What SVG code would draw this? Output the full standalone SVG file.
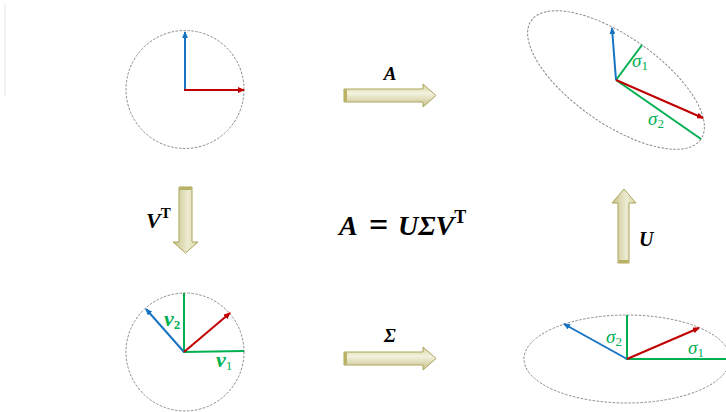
<svg xmlns="http://www.w3.org/2000/svg" width="726" height="412" viewBox="0 0 726 412">
<defs>
<style>
.ring{fill:none;stroke:#8a8a8a;stroke-width:1;stroke-dasharray:2.5 1.5}
.blue{stroke:#1874C2;stroke-width:2;fill:none}
.red{stroke:#C00000;stroke-width:2;fill:none}
.green{stroke:#00B050;stroke-width:2;fill:none}
.glab{font-family:"Liberation Serif","DejaVu Serif",serif;font-style:italic;fill:#00B050;font-size:19px}
.vlab{font-family:"Liberation Serif","DejaVu Serif",serif;font-style:italic;font-weight:bold;fill:#00B050;font-size:22px}
.math{font-family:"Liberation Serif","DejaVu Serif",serif;font-style:italic;font-weight:bold;fill:#000}
.sub{font-style:normal;font-size:13px}
.big{stroke:#ABA55C;stroke-width:1}
.tail{fill:#B8B262}
</style>
<marker id="mb" markerWidth="7" markerHeight="6" refX="6" refY="3" orient="auto" markerUnits="userSpaceOnUse"><path d="M0,0 L7,3 L0,6 Z" fill="#1874C2"/></marker>
<marker id="mr" markerWidth="7" markerHeight="6" refX="6" refY="3" orient="auto" markerUnits="userSpaceOnUse"><path d="M0,0 L7,3 L0,6 Z" fill="#C00000"/></marker>
<linearGradient id="gh" x1="0" y1="0" x2="0" y2="1">
<stop offset="0" stop-color="#D4D09A"/><stop offset="0.4" stop-color="#F3F2DE"/><stop offset="1" stop-color="#C6C188"/>
</linearGradient>
<linearGradient id="gv" x1="0" y1="0" x2="1" y2="0">
<stop offset="0" stop-color="#C6C188"/><stop offset="0.6" stop-color="#EDEBD2"/><stop offset="1" stop-color="#D8D5A4"/>
</linearGradient>
</defs>
<rect x="4" y="4" width="2" height="92" fill="#F2F2F2"/>

<g id="connectors">
<g id="arrow-A">
<path class="big" d="M344,89 H423 V84 L436,95.5 L423,107 V102 H344 Z" fill="url(#gh)"/>
<rect class="tail" x="344" y="89.5" width="3" height="12"/>
<text class="math" x="390" y="80" font-size="19" text-anchor="middle">A</text>
</g>
<g id="arrow-Sigma">
<path class="big" d="M344,352 H423 V347 L436,358.5 L423,370 V365 H344 Z" fill="url(#gh)"/>
<rect class="tail" x="344" y="352.5" width="3" height="12"/>
<text class="math" x="390" y="342" font-size="19" text-anchor="middle">Σ</text>
</g>
<g id="arrow-VT">
<path class="big" d="M179,187 H192 V242 H198 L185.5,253 L173,242 H179 Z" fill="url(#gv)"/>
<rect class="tail" x="179.5" y="187" width="12" height="3"/>
<text class="math" x="146" y="228" font-size="22">V<tspan font-style="normal" font-size="15" dy="-10">T</tspan></text>
</g>
<g id="arrow-U">
<path class="big" d="M618,263 V203 H612 L624,189 L636,203 H629 V263 Z" fill="url(#gv)"/>
<rect class="tail" x="618.5" y="260" width="10" height="3"/>
<text class="math" x="639" y="246" font-size="20">U</text>
</g>
</g>

<g id="formula">
<text class="math" y="235" font-size="28"><tspan x="339">A</tspan><tspan x="369" y="236" font-style="normal" font-size="34">=</tspan><tspan x="398" y="235">UΣV</tspan><tspan font-style="normal" font-size="18" dy="-12">T</tspan></text>
</g>

<g id="node-top-left">
<circle class="ring" cx="185" cy="89.5" r="59"/>
<line class="blue" x1="185" y1="90" x2="185" y2="32" marker-end="url(#mb)"/>
<line class="red" x1="184" y1="90" x2="244" y2="90" marker-end="url(#mr)"/>
</g>

<g id="node-top-right">
<ellipse class="ring" cx="616" cy="80" rx="103.5" ry="43.6" transform="rotate(35 616 80)"/>
<line class="green" x1="616" y1="80" x2="642" y2="45"/>
<line class="green" x1="616" y1="80" x2="701" y2="139"/>
<line class="blue" x1="616" y1="80" x2="612" y2="28" marker-end="url(#mb)"/>
<line class="red" x1="616" y1="80" x2="703" y2="118" marker-end="url(#mr)"/>
<text class="glab" x="632" y="67">σ<tspan class="sub" dy="3">1</tspan></text>
<text class="glab" x="648" y="125">σ<tspan class="sub" dy="3">2</tspan></text>
</g>

<g id="node-bottom-left">
<circle class="ring" cx="185" cy="352" r="59"/>
<line class="green" x1="184" y1="352" x2="184" y2="293"/>
<line class="green" x1="183" y1="352" x2="244" y2="351"/>
<line class="blue" x1="184" y1="352" x2="146" y2="309" marker-end="url(#mb)"/>
<line class="red" x1="184" y1="352" x2="230" y2="313" marker-end="url(#mr)"/>
<text class="vlab" x="164" y="326">v<tspan class="sub" font-weight="bold" dy="3">2</tspan></text>
<text class="vlab" x="216" y="367">v<tspan class="sub" font-weight="normal" dy="3">1</tspan></text>
</g>

<g id="node-bottom-right">
<ellipse class="ring" cx="627" cy="359" rx="103" ry="44"/>
<line class="green" x1="627" y1="359" x2="627" y2="315"/>
<line class="green" x1="626" y1="359" x2="730" y2="359"/>
<line class="blue" x1="627" y1="359" x2="564" y2="324" marker-end="url(#mb)"/>
<line class="red" x1="627" y1="359" x2="699" y2="328" marker-end="url(#mr)"/>
<text class="glab" x="606" y="343">σ<tspan class="sub" dy="3">2</tspan></text>
<text class="glab" x="688" y="354">σ<tspan class="sub" dy="3">1</tspan></text>
</g>
</svg>
